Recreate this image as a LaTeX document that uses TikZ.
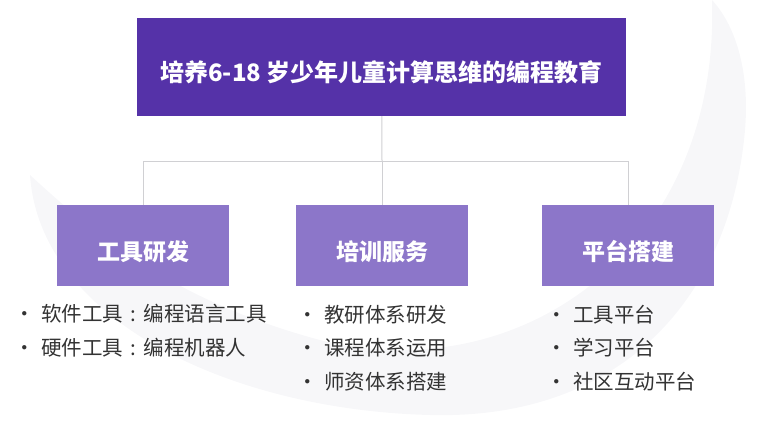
\documentclass[tikz,border=0pt]{standalone}
\usepackage{fontspec}
\setmainfont{Noto Sans CJK SC}
\usepackage{tikz}
\usetikzlibrary{positioning, calc, backgrounds}
\usepackage{xcolor}
\definecolor{headviolet}{RGB}{85, 50, 168}
\definecolor{armviolet}{RGB}{140, 118, 201}
\definecolor{linkgray}{RGB}{208, 208, 211}
\definecolor{itemgray}{RGB}{51, 51, 51}
\definecolor{swoosh}{RGB}{247, 247, 249}

\newcommand{\itm}[1]{\makebox[17pt][l]{\hspace{-10pt}\textbullet}#1}
\newcommand{\sepcolon}{\makebox[1em][c]{:}}

\begin{document}
\begin{tikzpicture}[
    x=1pt, y=-1pt,
    headbox/.style={fill=headviolet, text=white, minimum width=489pt,
                 minimum height=98pt, text height=33pt, text depth=3pt,
                 font=\fontsize{24}{28}\selectfont\bfseries},
    armbox/.style={fill=armviolet, text=white, minimum width=172pt,
                 minimum height=81pt, text height=33pt, text depth=3pt,
                 font=\fontsize{23}{27}\selectfont\bfseries},
    itemlist/.style={anchor=base west, align=left, text=itemgray, inner sep=0pt,
                 font=\fontsize{20.5}{33.5}\selectfont},
    link/.style={draw=linkgray, line width=1pt},
  ]
    \useasboundingbox (0,0) rectangle (765,433);

    % Background swoosh
    \fill[swoosh] (30,175) .. controls (40,320) and (230,410) .. (430,415)
      .. controls (620,420) and (730,300) .. (745,130)
      .. controls (750,70) and (735,25) .. (712,0)
      .. controls (720,250) and (520,390) .. (320,340)
      .. controls (170,300) and (90,230) .. (30,175) -- cycle;

    % Top box
    \node[headbox] (goal) at (381.5,67) {培养6-18 岁少年儿童计算思维的编程教育};

    % Branches
    \node[armbox] (tool) at (143,245.5) {工具研发};
    \node[armbox] (train) at (382,245.5) {培训服务};
    \node[armbox] (plat) at (628,245.5) {平台搭建};

    % Split point
    \coordinate (split) at (382,161);

    % Connectors
    \draw[link] (goal) -- (split);
    \draw[link] (split) -| (tool);
    \draw[link] (split) -- (train);
    \draw[link] (split) -| (plat);

    % Item lists (anchored at the last line)
    \node[itemlist] (toollist) at (24,355)
      {\itm{软件工具\sepcolon 编程语言工具}\\\itm{硬件工具\sepcolon 编程机器人}};
    \node[itemlist] (trainlist) at (307,389)
      {\itm{教研体系研发}\\\itm{课程体系运用}\\\itm{师资体系搭建}};
    \node[itemlist] (platlist) at (556,389)
      {\itm{工具平台}\\\itm{学习平台}\\\itm{社区互动平台}};
  \end{tikzpicture}
\end{document}
